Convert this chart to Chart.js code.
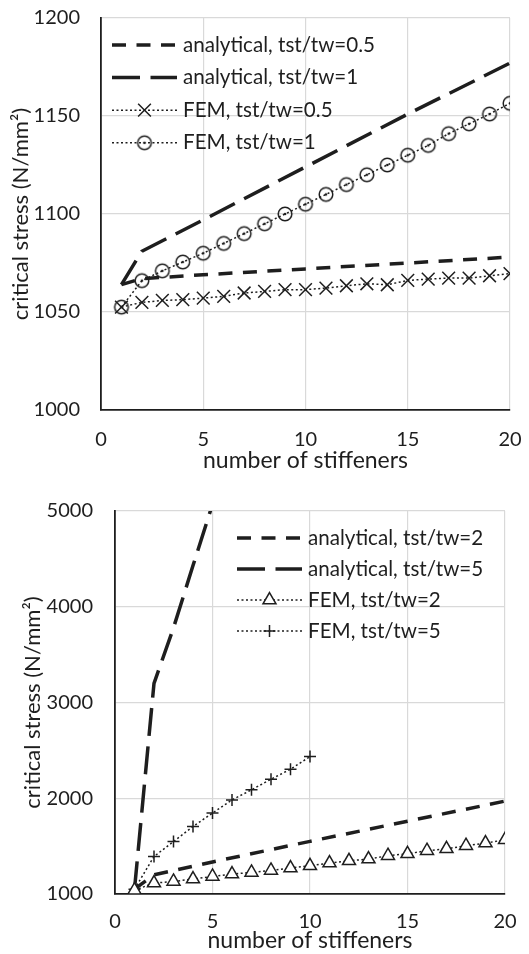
<!DOCTYPE html>
<html>
<head>
<meta charset="utf-8">
<script src="https://cdn.jsdelivr.net/npm/chart.js@4.4.0/dist/chart.umd.min.js"></script>
<style>
  html, body { margin: 0; padding: 0; background: #fff; }
  .box { position: relative; width: 529px; height: 477px; }
  canvas { display: block; }
</style>
</head>
<body>
<div class="box"><canvas id="topChart" width="529" height="477"></canvas></div>
<div class="box"><canvas id="bottomChart" width="529" height="477"></canvas></div>
<script>
// ---- data ----
const femX = [1, 2, 3, 4, 5, 6, 7, 8, 9, 10, 11, 12, 13, 14, 15, 16, 17, 18, 19, 20];

// top panel
const anaTopX = [1, 2, 5, 10, 15, 20];
const anaHalf = [1064, 1067, 1069, 1072, 1075, 1078];
const anaOne = [1064, 1081, 1097, 1124, 1151, 1177];
const femHalf = [1052.5, 1054.9, 1055.9, 1056.3, 1057.1, 1058, 1059.7, 1060.5, 1061.4, 1061.4,
                 1062.2, 1063.4, 1064.4, 1063.9, 1066.1, 1066.8, 1067.3, 1067.3, 1068.5, 1069.6];
const femOne = [1052.5, 1066, 1071, 1075.5, 1080, 1085, 1090, 1095, 1100, 1105,
                1110, 1115, 1120, 1125, 1130, 1135, 1141, 1146, 1151, 1156.5];
const topYTicks = [1000, 1050, 1100, 1150, 1200];

// bottom panel
const anaTwoX = [1, 2, 5, 10, 15, 20];
const anaTwo = [1050, 1200, 1335, 1550, 1760, 1970];
const anaFiveX = [1, 2, 3, 4, 5];
const anaFive = [1050, 3200, 3780, 4430, 5070];
const femTwo = [1040, 1114, 1131, 1156, 1184, 1208, 1225, 1246, 1271, 1295,
                1323, 1347, 1365, 1400, 1420, 1452, 1472, 1504, 1532, 1566];
const femFiveX = [1, 2, 3, 4, 5, 6, 7, 8, 9, 10];
const femFive = [1050, 1392, 1548, 1705, 1845, 1983, 2088, 2199, 2303, 2435];
const bottomYTicks = [1000, 2000, 3000, 4000, 5000];
const xTicks = [0, 5, 10, 15, 20];

const INK = '#1e1e1e';
const GRID = '#d9d9d9';
const NONE = 'rgba(0,0,0,0)';
const FONT = "Lato, 'Open Sans', sans-serif";

Chart.defaults.font.family = FONT;
Chart.defaults.color = INK;

const pts = (xs, ys) => xs.map((x, i) => ({ x: x, y: ys[i] }));

// open circle with a dot in the middle
function dotCircle() {
  const c = document.createElement('canvas');
  c.width = 18; c.height = 18;
  const g = c.getContext('2d');
  g.strokeStyle = INK; g.lineWidth = 1.5;
  g.beginPath(); g.arc(9, 9, 6.8, 0, Math.PI * 2); g.stroke();
  g.fillStyle = INK;
  g.beginPath(); g.arc(9, 9, 1.3, 0, Math.PI * 2); g.fill();
  return c;
}

function analytic(label, data, dash) {
  return {
    label: label, data: data, borderColor: INK, borderWidth: 3.5,
    borderDash: dash, pointRadius: 0, tension: 0, order: 2, fill: false
  };
}

function fem(label, data, style, radius, bg) {
  return {
    label: label, data: data, borderColor: INK, borderWidth: 1.5,
    borderDash: [2, 2.5], pointStyle: style, pointRadius: radius, pointHoverRadius: radius,
    pointBorderColor: INK, pointBackgroundColor: bg, pointBorderWidth: 1.5,
    tension: 0, order: 1, fill: false
  };
}

// legend drawn inside the plot area: line sample + marker + text
const sampleLegend = {
  id: 'sampleLegend',
  afterDraw(chart, args, o) {
    const ctx = chart.ctx;
    chart.data.datasets.forEach((ds, i) => {
      const y = o.y0 + i * o.dy;
      ctx.save();
      ctx.strokeStyle = ds.borderColor;
      ctx.lineWidth = ds.borderWidth;
      ctx.setLineDash(ds.borderDash || []);
      ctx.beginPath();
      ctx.moveTo(o.x0, y);
      ctx.lineTo(o.x1, y);
      ctx.stroke();
      ctx.restore();
      if (ds.pointRadius > 0) {
        ctx.save();
        ctx.strokeStyle = ds.pointBorderColor;
        ctx.fillStyle = ds.pointBackgroundColor;
        ctx.lineWidth = ds.pointBorderWidth;
        Chart.helpers.drawPoint(ctx, {
          pointStyle: ds.pointStyle, radius: ds.pointRadius, rotation: 0, borderWidth: ds.pointBorderWidth
        }, (o.x0 + o.x1) / 2, y);
        ctx.restore();
      }
      ctx.save();
      ctx.fillStyle = INK;
      ctx.font = o.fontSize + 'px ' + FONT;
      ctx.textBaseline = 'middle';
      ctx.fillText(ds.label, o.tx, y);
      ctx.restore();
    });
  }
};

// the gap between tick labels and axis comes from invisible tick marks,
// so it does not push the plot area inwards the way ticks.padding does
function makeOptions(cfg) {
  return {
    responsive: false,
    animation: false,
    devicePixelRatio: 1,
    layout: { padding: { left: 0, right: cfg.padRight, top: cfg.padTop, bottom: 0 } },
    plugins: {
      legend: { display: false },
      tooltip: { enabled: false },
      sampleLegend: cfg.legend
    },
    scales: {
      x: {
        type: 'linear', min: 0, max: 20,
        afterBuildTicks: s => { s.ticks = xTicks.map(v => ({ value: v })); },
        afterFit: s => { s.height = cfg.xHeight; },
        grid: {
          color: c => (c.tick && c.tick.value === 0 ? NONE : GRID),
          lineWidth: 1.2, drawTicks: true, tickLength: cfg.xTickLen, tickColor: NONE
        },
        border: { color: INK, width: 1.8 },
        ticks: { padding: 2, font: { size: 20 }, color: INK, maxRotation: 0,
                 callback: v => String(v) },
        title: {
          display: true, text: 'number of stiffeners', color: INK,
          font: { size: 23 }, padding: { top: 0, bottom: cfg.xTitlePad }
        }
      },
      y: {
        type: 'linear', min: cfg.yTicks[0], max: cfg.yTicks[cfg.yTicks.length - 1],
        afterBuildTicks: s => { s.ticks = cfg.yTicks.map(v => ({ value: v })); },
        afterFit: s => { s.width = cfg.yWidth; },
        grid: {
          color: c => (c.tick && c.tick.value === cfg.yTicks[0] ? NONE : GRID),
          lineWidth: 1.2, drawTicks: true, tickLength: cfg.yTickLen, tickColor: NONE
        },
        border: { color: INK, width: 1.8 },
        ticks: { padding: 2, font: { size: 20 }, color: INK, callback: v => String(v) },
        title: {
          display: true, text: 'critical stress (N/mm²)', color: INK,
          font: { size: 22 }, padding: { top: cfg.yTitlePad, bottom: 0 }
        }
      }
    }
  };
}

const circleImg = dotCircle();

new Chart(document.getElementById('topChart'), {
  type: 'line',
  data: {
    datasets: [
      analytic('analytical, tst/tw=0.5', pts(anaTopX, anaHalf), [14, 10.5]),
      analytic('analytical, tst/tw=1', pts(anaTopX, anaOne), [28, 10.5]),
      fem('FEM, tst/tw=0.5', pts(femX, femHalf), 'crossRot', 9, NONE),
      fem('FEM, tst/tw=1', pts(femX, femOne), circleImg, 7, NONE)
    ]
  },
  options: makeOptions({
    padRight: 19, padTop: 18, xHeight: 67, yWidth: 101,
    xTickLen: 16, yTickLen: 19, xTitlePad: 3, yTitlePad: 8,
    yTicks: topYTicks,
    legend: { x0: 112, x1: 177, tx: 183, y0: 45, dy: 32.6, fontSize: 20.6 }
  }),
  plugins: [sampleLegend]
});

new Chart(document.getElementById('bottomChart'), {
  type: 'line',
  data: {
    datasets: [
      analytic('analytical, tst/tw=2', pts(anaTwoX, anaTwo), [14, 10.5]),
      analytic('analytical, tst/tw=5', pts(anaFiveX, anaFive), [28, 10.5]),
      fem('FEM, tst/tw=2', pts(femX, femTwo), 'triangle', 7.5, '#ffffff'),
      fem('FEM, tst/tw=5', pts(femFiveX, femFive), 'cross', 6, NONE)
    ]
  },
  options: makeOptions({
    padRight: 24, padTop: 34, xHeight: 60, yWidth: 115,
    xTickLen: 14, yTickLen: 20, xTitlePad: 0, yTitlePad: 20,
    yTicks: bottomYTicks,
    legend: { x0: 237, x1: 302, tx: 308, y0: 61, dy: 31, fontSize: 20.6 }
  }),
  plugins: [sampleLegend]
});
</script>
</body>
</html>
